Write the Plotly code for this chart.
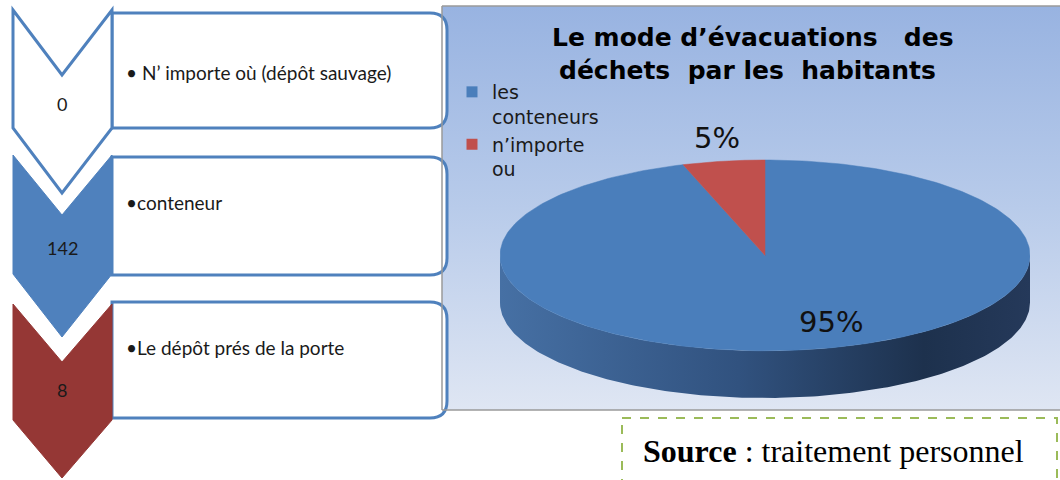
import numpy as np
import plotly.graph_objects as go

# Counts per disposal mode (chevron column, top to bottom)
mode_labels = ["N’ importe où (dépôt sauvage)", "conteneur", "Le dépôt prés de la porte"]
mode_counts = [0, 142, 8]

# Pie: share of each evacuation mode (percent)
pie_labels = ["les<br>conteneurs", "n’importe<br>ou"]
pie_shares = [95, 5]

title_lines = ["Le mode d’évacuations\u00a0\u00a0 des", "déchets\u00a0 par les\u00a0 habitants"]
source_bold, source_rest = "Source", " : traitement personnel"

W, H = 1060, 480
BLUE = "#4f81bd"
RED_DARK = "#953735"
slice_colors = ["#4a7ebb", "#c0504d"]
side_scales = [
    [[0, "#4670a4"], [0.45, "#31527f"], [0.8, "#1d314d"], [1, "#25395a"]],
    [[0, "#8f3431"], [1, "#5e2220"]],
]

DEPTH = 0.495      # pie thickness, in units of the vertical radius
HEADROOM = 0.6     # room above the pie for outside labels
START = 90.0       # first slice starts at 12 o'clock, slices run clockwise
PX_PER_UNIT = (398 - 160) / (2 + DEPTH)

fig = go.Figure()

# ---- chart pane background (vertical gradient) ----
fig.add_trace(go.Scatter(
    x=[442, 1060, 1060, 442, 442], y=[6, 6, 410, 410, 6],
    mode="lines", line=dict(width=0), fill="toself",
    fillgradient=dict(type="vertical", start=6, stop=410,
                      colorscale=[[0, "#98b3e1"], [0.5, "#b8cbea"], [1, "#dfe6f3"]]),
    hoverinfo="skip", showlegend=False, xaxis="x", yaxis="y"))

# ---- 3-D style pie, drawn on its own axes ----
total = float(sum(pie_shares))
bounds = START - np.cumsum([0] + pie_shares) / total * 360.0

# side wall: only the front half (sin < 0) is visible
for i in range(len(pie_shares)):
    hi, lo = bounds[i], bounds[i + 1]
    for k in range(-2, 2):
        f0, f1 = -180 + 360 * k, 360 * k
        a, b = max(lo, f0), min(hi, f1)
        if b - a <= 0:
            continue
        th = np.radians(np.linspace(a, b, 200))
        xs = np.concatenate([np.cos(th), np.cos(th[::-1])])
        ys = np.concatenate([np.sin(th), np.sin(th[::-1]) - DEPTH])
        fig.add_trace(go.Scatter(
            x=np.append(xs, xs[0]), y=np.append(ys, ys[0]),
            mode="lines", line=dict(width=0), fill="toself",
            fillgradient=dict(type="horizontal", start=-1, stop=1, colorscale=side_scales[i]),
            hoverinfo="skip", showlegend=False, xaxis="x2", yaxis="y2"))

# top face slices
for i in range(len(pie_shares)):
    th = np.radians(np.linspace(bounds[i], bounds[i + 1], 300))
    xs = np.concatenate([[0], np.cos(th), [0]])
    ys = np.concatenate([[0], np.sin(th), [0]])
    fig.add_trace(go.Scatter(
        x=xs, y=ys, mode="lines", fill="toself", fillcolor=slice_colors[i],
        line=dict(width=0.5, color=slice_colors[i]),
        hoverinfo="skip", showlegend=False, xaxis="x2", yaxis="y2"))

# legend entries
for lab, col in zip(pie_labels, slice_colors):
    fig.add_trace(go.Scatter(
        x=[None], y=[None], mode="markers", name=lab,
        marker=dict(symbol="square", size=11, color=col),
        xaxis="x", yaxis="y"))

# percentage labels
label_anchor = [(0.25, -0.70), (-0.18, 1.23)]
annotations = []
for v, (ax_, ay_) in zip(pie_shares, label_anchor):
    annotations.append(dict(
        x=ax_, y=ay_, xref="x2", yref="y2", text=f"{v / total * 100:.0f}%",
        showarrow=False, font=dict(family="DejaVu Sans", size=29, color="#111111")))

# title
for txt, cx, cy in zip(title_lines, [753, 747], [37, 70]):
    annotations.append(dict(
        x=cx, y=cy, xref="x", yref="y", text=f"<b>{txt}</b>", showarrow=False,
        font=dict(family="DejaVu Sans", size=25, color="#000000")))

# ---- chevrons + text boxes on the left ----
shapes = []

def chevron(top, notch, side_bottom, tip):
    return (f"M 13,{top} L 62,{notch} L 112,{top} L 112,{side_bottom} "
            f"L 62,{tip} L 13,{side_bottom} Z")

chevron_geo = [(10, 75, 128, 193), (155, 215, 274, 337), (304, 362, 420, 478)]
chevron_style = [
    dict(fillcolor="white", line=dict(color=BLUE, width=3)),
    dict(fillcolor=BLUE, line=dict(color=BLUE, width=1)),
    dict(fillcolor=RED_DARK, line=dict(color=RED_DARK, width=1)),
]

def right_rounded(x0, y0, x1, y1, r):
    return (f"M {x0},{y0} L {x1 - r},{y0} Q {x1},{y0} {x1},{y0 + r} "
            f"L {x1},{y1 - r} Q {x1},{y1} {x1 - r},{y1} L {x0},{y1} Z")

box_geo = [(13, 128), (157, 275), (302, 418)]
for (y0, y1) in box_geo:
    shapes.append(dict(type="path", path=right_rounded(112, y0, 447, y1, 17),
                       xref="x", yref="y", fillcolor="white",
                       line=dict(color=BLUE, width=3), layer="above"))
for geo, sty in zip(chevron_geo, chevron_style):
    shapes.append(dict(type="path", path=chevron(*geo), xref="x", yref="y",
                       layer="above", **sty))

count_y = [104, 248, 390]
text_y = [72, 202, 347]
bullets = ["• ", "•", "•"]
for lab, cnt, cy, ty, bl in zip(mode_labels, mode_counts, count_y, text_y, bullets):
    annotations.append(dict(x=62, y=cy, xref="x", yref="y", text=str(cnt), showarrow=False,
                            font=dict(family="Lato", size=18, color="#1a1a1a")))
    annotations.append(dict(x=124, y=ty, xref="x", yref="y", text=bl + lab, showarrow=False,
                            xanchor="left", font=dict(family="Lato", size=19, color="#1a1a1a")))

# pane borders
shapes.append(dict(type="line", x0=442, x1=1060, y0=6, y1=6, xref="x", yref="y",
                   line=dict(color="#9a9a9a", width=1.5)))
shapes.append(dict(type="line", x0=442, x1=442, y0=6, y1=410, xref="x", yref="y",
                   line=dict(color="#9a9a9a", width=1.5)))
shapes.append(dict(type="line", x0=442, x1=1060, y0=410, y1=410, xref="x", yref="y",
                   line=dict(color="#9a9a9a", width=1.5)))

# source box
shapes.append(dict(type="rect", x0=622, x1=1057, y0=418, y1=495, xref="x", yref="y",
                   line=dict(color="#9bbb59", width=2, dash="dash"), fillcolor="white"))
annotations.append(dict(x=641, y=451, xref="x", yref="y", xanchor="left", showarrow=False,
                        text=f"<b>{source_bold}</b>{source_rest}",
                        font=dict(family="Liberation Serif", size=32, color="#000000")))

pie_top_px = 160 - HEADROOM * PX_PER_UNIT
fig.update_layout(
    width=W, height=H, margin=dict(l=0, r=0, t=0, b=0),
    paper_bgcolor="white", plot_bgcolor="rgba(0,0,0,0)",
    xaxis=dict(range=[0, W], domain=[0, 1], visible=False, fixedrange=True),
    yaxis=dict(range=[H, 0], domain=[0, 1], visible=False, fixedrange=True),
    xaxis2=dict(range=[-1, 1], domain=[500 / W, 1030 / W], anchor="y2",
                visible=False, fixedrange=True),
    yaxis2=dict(range=[-1 - DEPTH, 1 + HEADROOM], domain=[1 - 398 / H, 1 - pie_top_px / H],
                anchor="x2", visible=False, fixedrange=True),
    showlegend=True,
    legend=dict(x=452 / W, y=1 - 73 / H, xanchor="left", yanchor="top",
                bgcolor="rgba(0,0,0,0)", borderwidth=0, itemwidth=30, valign="top",
                tracegroupgap=0, font=dict(family="DejaVu Sans", size=19, color="#1a1a1a")),
    shapes=shapes, annotations=annotations,
)

fig.write_html("out.html")
